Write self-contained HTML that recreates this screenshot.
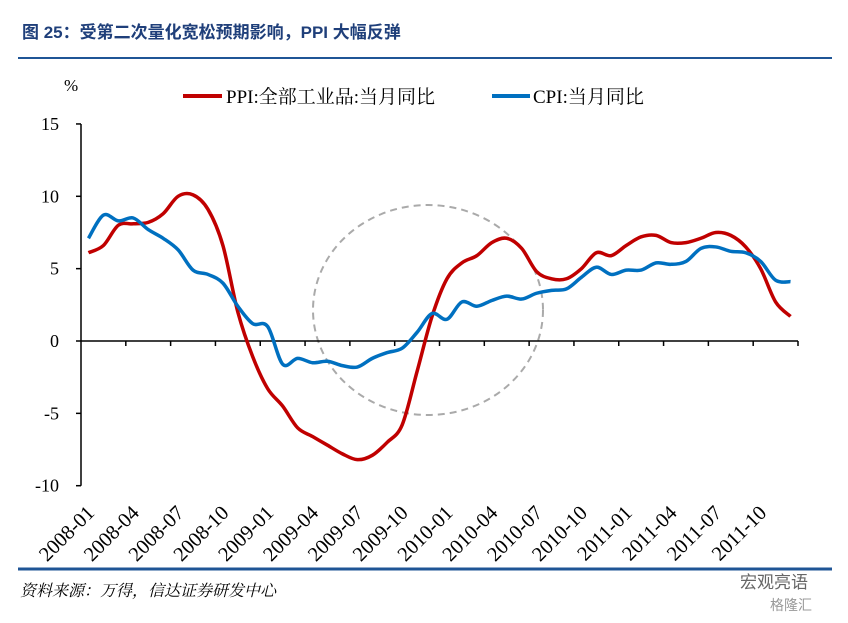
<!DOCTYPE html>
<html><head><meta charset="utf-8"><style>
body{margin:0;background:#fff;width:848px;height:618px;overflow:hidden;font-family:"Liberation Serif","Noto Serif CJK SC",serif}
</style></head><body>
<svg width="848" height="618" xmlns="http://www.w3.org/2000/svg">
<text x="22" y="38" font-family="'Liberation Sans','Noto Sans CJK SC',sans-serif" font-weight="bold" font-size="17" fill="#1f3f7a">图 25：受第二次量化宽松预期影响，PPI 大幅反弹</text>
<line x1="18" y1="58" x2="832" y2="58" stroke="#1f5596" stroke-width="2"/>
<text x="64" y="91" font-size="17">%</text>
<line x1="183" y1="96" x2="222" y2="96" stroke="#c00000" stroke-width="4"/>
<text x="226" y="103" font-size="19">PPI:全部工业品:当月同比</text>
<line x1="492" y1="96" x2="530" y2="96" stroke="#0070c0" stroke-width="4"/>
<text x="533" y="103" font-size="19">CPI:当月同比</text>
<ellipse cx="428" cy="310" rx="115" ry="105" fill="none" stroke="#aaa" stroke-width="2" stroke-dasharray="7,5"/>
<g id="axes"></g>
<g id="series"></g>
<line x1="18" y1="569" x2="832" y2="569" stroke="#1f5596" stroke-width="3"/>
<text x="20" y="596" font-size="16" font-style="italic" font-family="'Liberation Serif','Noto Serif CJK SC',serif">资料来源：万得，信达证券研发中心</text>
<text x="740" y="588" font-size="17" fill="#666" font-family="'Liberation Sans','Noto Sans CJK SC',sans-serif">宏观亮语</text>
<text x="770" y="610" font-size="14" fill="#999" font-family="'Liberation Sans','Noto Sans CJK SC',sans-serif">格隆汇</text>
</svg>
<script>
const categories=[];for(let y=2008;y<=2011;y++)for(let m=1;m<=12;m++)categories.push(y+'-'+String(m).padStart(2,'0'));
const ppiValues=[6.1,6.6,8.0,8.1,8.2,8.8,10.0,10.1,9.1,6.6,2.0,-1.1,-3.3,-4.5,-6.0,-6.6,-7.2,-7.8,-8.2,-7.9,-7.0,-5.8,-2.1,1.7,4.3,5.4,5.9,6.8,7.1,6.4,4.8,4.3,4.3,5.0,6.1,5.9,6.6,7.2,7.3,6.8,6.8,7.1,7.5,7.3,6.5,5.0,2.7,1.7];
const cpiValues=[7.1,8.7,8.3,8.5,7.7,7.1,6.3,4.9,4.6,4.0,2.4,1.2,1.0,-1.6,-1.2,-1.5,-1.4,-1.7,-1.8,-1.2,-0.8,-0.5,0.6,1.9,1.5,2.7,2.4,2.8,3.1,2.9,3.3,3.5,3.6,4.4,5.1,4.6,4.9,4.9,5.4,5.3,5.5,6.4,6.5,6.2,6.1,5.5,4.2,4.1];
const yTicks=[15,10,5,0,-5,-10];
const NS='http://www.w3.org/2000/svg';
const x0=81,x1=798,bw=(x1-x0)/categories.length;
const xs=i=>x0+bw*(i+0.5);
const ys=v=>341-v*14.47;
const axes=document.getElementById('axes'),series=document.getElementById('series');
function mk(t,a,p){const e=document.createElementNS(NS,t);for(const k in a)e.setAttribute(k,a[k]);p.appendChild(e);return e;}
let e=mk('line',{x1:x0,y1:ys(15),x2:x0,y2:ys(-10),stroke:'#000','stroke-width':1.5},axes);


e=mk('line',{x1:x0,y1:ys(0),x2:x1,y2:ys(0),stroke:'#000','stroke-width':1.5},axes);


yTicks.forEach(v=>{
 const t=mk('line',{x1:x0-5,y1:ys(v),x2:x0,y2:ys(v),stroke:'#000','stroke-width':1.5},axes);
 
 
 const l=mk('text',{x:x0-22,y:ys(v)+6,'text-anchor':'end','font-size':18},axes);l.textContent=v;
 
 
});
for(let i=3;i<=categories.length;i+=3){
 const x=x0+bw*i;
 const t=mk('line',{x1:x,y1:ys(0),x2:x,y2:ys(0)+5,stroke:'#000','stroke-width':1.5},axes);
 
 
}
categories.forEach((c,i)=>{
 if(i%3)return;
 const x=xs(i)+7,y=514;
 const l=mk('text',{x:x,y:y,'text-anchor':'end','font-size':20.5,transform:`rotate(-45 ${x} ${y})`},axes);l.textContent=c;
 
 
});
function path(vals){
 const p=vals.map((v,i)=>[xs(i),ys(v)]);let d=`M${p[0][0]},${p[0][1]}`;
 for(let i=0;i<p.length-1;i++){const a=p[i-1]||p[i],b=p[i],c=p[i+1],n=p[i+2]||c;
  d+=` C${b[0]+(c[0]-a[0])/6},${b[1]+(c[1]-a[1])/6} ${c[0]-(n[0]-b[0])/6},${c[1]-(n[1]-b[1])/6} ${c[0]},${c[1]}`;}
 return d;}
e=mk('path',{d:path(ppiValues),fill:'none',stroke:'#c00000','stroke-width':3.5,'stroke-linejoin':'round'},series);


e=mk('path',{d:path(cpiValues),fill:'none',stroke:'#0070c0','stroke-width':3.5,'stroke-linejoin':'round'},series);


</script>
</body></html>
